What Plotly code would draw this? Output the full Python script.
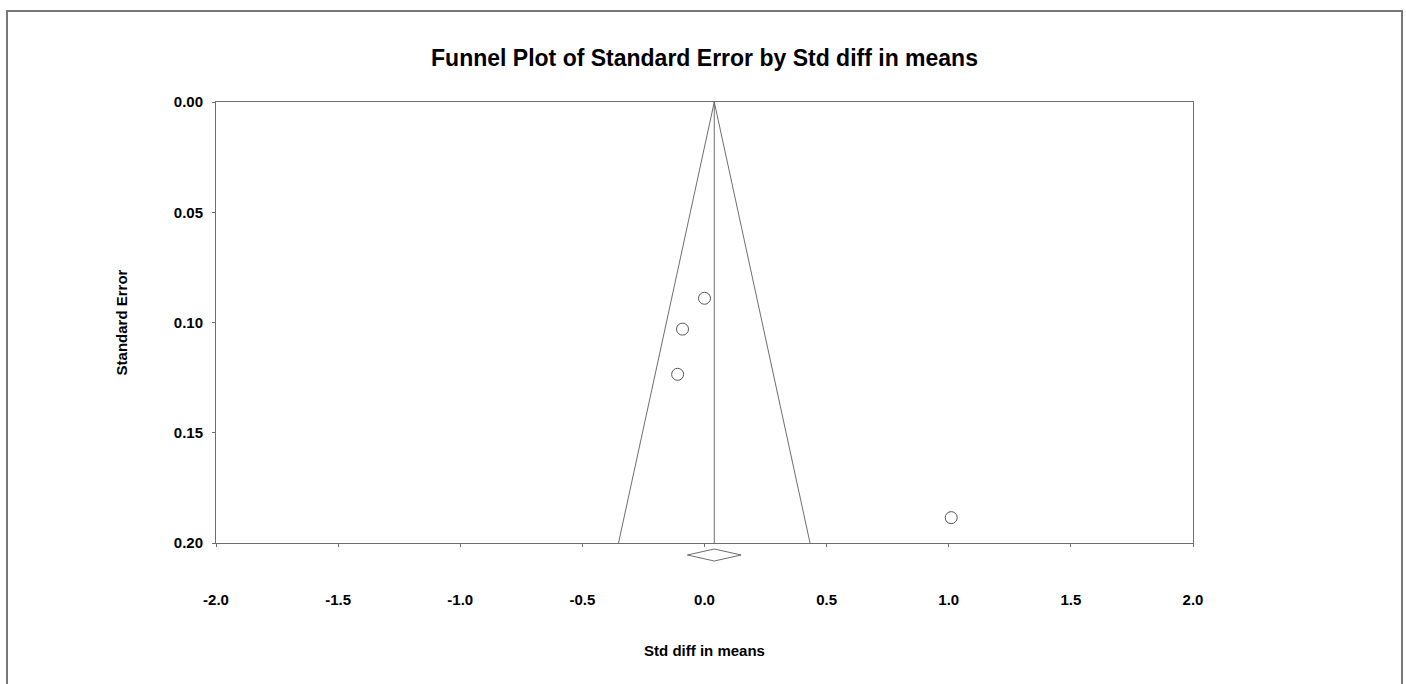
import plotly.graph_objects as go

# ---- data ----
std_diff = [0.00, -0.09, -0.11, 1.01]
std_err = [0.089, 0.103, 0.1235, 0.1885]
summary_est = 0.04
summary_ci = [-0.07, 0.15]
se_max = 0.20
x_ticks = [-2.0, -1.5, -1.0, -0.5, 0.0, 0.5, 1.0, 1.5, 2.0]
y_ticks = [0.00, 0.05, 0.10, 0.15, 0.20]
title = "Funnel Plot of Standard Error by Std diff in means"
x_title = "Std diff in means"
y_title = "Standard Error"

FONT = "Liberation Sans, Arial, sans-serif"
LINE = "#6e6e6e"

W, H = 1406, 684
ML, MR, MT, MB = 216, 213, 102, 114
PW, PH = W - ML - MR, H - MT - MB

fig = go.Figure()

# funnel (pseudo 95% limits)
fig.add_trace(go.Scatter(
    x=[summary_est - 1.96 * se_max, summary_est, summary_est + 1.96 * se_max],
    y=[se_max, 0, se_max], mode="lines",
    line=dict(color=LINE, width=1), hoverinfo="skip", showlegend=False,
    xaxis="x", yaxis="y"))
# centre line
fig.add_trace(go.Scatter(
    x=[summary_est, summary_est], y=[0, se_max], mode="lines",
    line=dict(color=LINE, width=1), hoverinfo="skip", showlegend=False,
    xaxis="x", yaxis="y"))
# studies
fig.add_trace(go.Scatter(
    x=std_diff, y=std_err, mode="markers",
    marker=dict(symbol="circle-open", size=12, color="#555555", line=dict(width=1)),
    showlegend=False, xaxis="x", yaxis="y", cliponaxis=False))
# summary diamond (own strip under the plot)
fig.add_trace(go.Scatter(
    x=[summary_ci[0], summary_est, summary_ci[1], summary_est, summary_ci[0]],
    y=[0, 1, 0, -1, 0], mode="lines",
    line=dict(color=LINE, width=1), showlegend=False, hoverinfo="skip",
    xaxis="x2", yaxis="y2"))

main_dom = [(H - MB - 543) / PH, 1.0]

fig.update_layout(
    width=W, height=H,
    margin=dict(l=ML, r=MR, t=MT, b=MB),
    paper_bgcolor="white", plot_bgcolor="white",
    font=dict(family=FONT, color="black", size=15),
    title=dict(text=title, x=704.5 / W, xref="container", xanchor="center",
               y=1 - 58 / H, yanchor="middle", yref="container",
               font=dict(size=23, weight="bold", family=FONT)),
    xaxis=dict(range=[-2, 2], tickvals=x_ticks, ticktext=[f"{v:.1f}" for v in x_ticks],
               showline=True, linecolor=LINE, linewidth=1, mirror=True,
               ticks="outside", ticklen=3, tickcolor=LINE, showgrid=False, zeroline=False,
               anchor="y", tickfont=dict(size=15, weight="bold"), ticklabelstandoff=40,
               title=dict(text=x_title, standoff=38, font=dict(size=15, weight="bold"))),
    xaxis3=dict(range=[-2, 2], tickvals=x_ticks, overlaying="x", anchor="y", side="bottom",
                ticks="inside", ticklen=3, tickcolor=LINE, showticklabels=False,
                showline=False, showgrid=False, zeroline=False),
    yaxis=dict(range=[se_max, 0], tickvals=y_ticks, ticktext=[f"{v:.2f}" for v in y_ticks],
               domain=main_dom, showline=True, linecolor=LINE, linewidth=1, mirror=True,
               ticks="outside", ticklen=3, tickcolor=LINE, showgrid=False, zeroline=False,
               tickfont=dict(size=15, weight="bold"), ticklabelstandoff=6,
               title=dict(text=y_title, standoff=42, font=dict(size=15, weight="bold"))),
    xaxis2=dict(range=[-2, 2], matches="x", anchor="y2", visible=False),
    yaxis2=dict(range=[-2.5, 2.0], domain=[0, main_dom[0]], anchor="x2", visible=False),
    shapes=[dict(type="rect", xref="paper", yref="paper",
                 x0=(7 - ML) / PW, x1=(1402 - ML) / PW,
                 y0=(H - MB - 700) / PH, y1=(H - MB - 11) / PH,
                 line=dict(color="#777777", width=2), layer="below")],
)

fig.write_html("out.html", config={"displayModeBar": False},
               post_script="document.body.style.margin='0';document.body.style.overflow='hidden';")
